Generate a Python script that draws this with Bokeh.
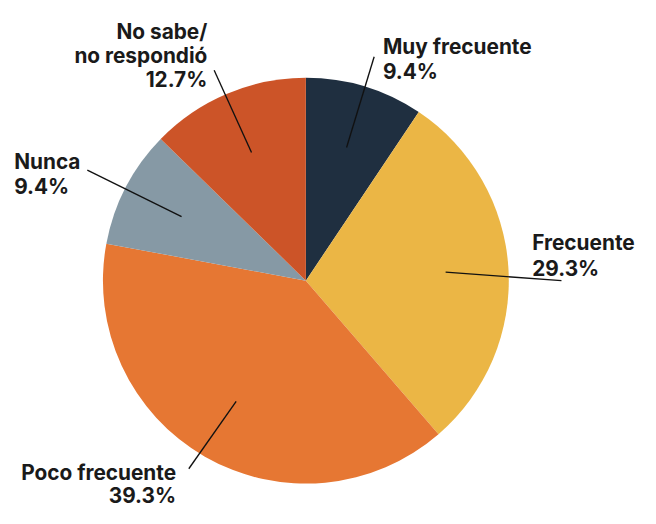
import numpy as np
from bokeh.plotting import figure
from bokeh.models import Range1d, ColumnDataSource
from bokeh.core.properties import value
from bokeh.embed import file_html
from bokeh.resources import INLINE

# ---- data ----
categories = ["Muy frecuente", "Frecuente", "Poco frecuente", "Nunca", "No sabe/ no respondió"]
label_lines = [["Muy frecuente"], ["Frecuente"], ["Poco frecuente"], ["Nunca"], ["No sabe/", "no respondió"]]
percentages = [9.4, 29.3, 39.3, 9.4, 12.7]
colors = ["#1f2f40", "#ebb645", "#e67733", "#8699a5", "#cc5428"]

# ---- layout: data units = reference-picture pixels (656 x 524), drawn into 640 x 508 ----
W, H = 640, 508
REF_W, REF_H = 656, 524
def Y(y_img):
    return REF_H - y_img

cx, cy, R = 313, Y(289), 208

p = figure(width=W, height=H, x_range=Range1d(0, REF_W), y_range=Range1d(0, REF_H),
           output_backend="svg", toolbar_location=None, min_border=0)
p.axis.visible = False
p.grid.visible = False
p.outline_line_color = None
p.background_fill_color = "white"
p.border_fill_color = "white"

vals = np.array(percentages, dtype=float)
frac = vals / vals.sum()
cum_end = np.cumsum(frac)
cum_start = cum_end - frac
# clockwise from top
start_angles = np.pi / 2 - cum_end * 2 * np.pi
end_angles = np.pi / 2 - cum_start * 2 * np.pi

src = ColumnDataSource(dict(x=[cx] * len(vals), y=[cy] * len(vals),
                            start=start_angles, end=end_angles, color=colors, cat=categories))
p.wedge(x="x", y="y", radius=R, start_angle="start", end_angle="end",
        fill_color="color", line_color=None, source=src)

# leader lines: from inside the slice (mid angle) to the label
mid = (start_angles + end_angles) / 2
r_in = 0.69 * R
outer_pts = [(383, 58), (575, 289), (193, 483), (89, 175), (219, 72)]
xs, ys = [], []
for a, (ox, oy) in zip(mid, outer_pts):
    xs.append([cx + r_in * np.cos(a), ox])
    ys.append([cy + r_in * np.sin(a), Y(oy)])
p.multi_line(xs=xs, ys=ys, line_color="#111111", line_width=1.35)

# labels
label_pos = [  # (x, first baseline, line step, align)
    (392, 47, 26, "left"),
    (545, 250, 26, "left"),
    (180, 487, 24, "right"),
    (14, 166, 26, "left"),
    (212, 32, 25, "right"),
]
tx, ty, tt, ta = [], [], [], []
for lines, pct, (lx, ly, step, align) in zip(label_lines, percentages, label_pos):
    all_lines = lines + [f"{pct:.1f}%"]
    for k, s in enumerate(all_lines):
        tx.append(lx)
        ty.append(Y(ly + k * step))
        tt.append(s)
        ta.append(align)
tsrc = ColumnDataSource(dict(x=tx, y=ty, text=tt, align=ta))
p.text(x="x", y="y", text="text", text_align="align", text_baseline="alphabetic",
       text_font=value("Inter"), text_font_style="bold", text_font_size="20.8px",
       text_color="#1a1a1a", source=tsrc)

open("out.html", "w").write(file_html(p, INLINE))
